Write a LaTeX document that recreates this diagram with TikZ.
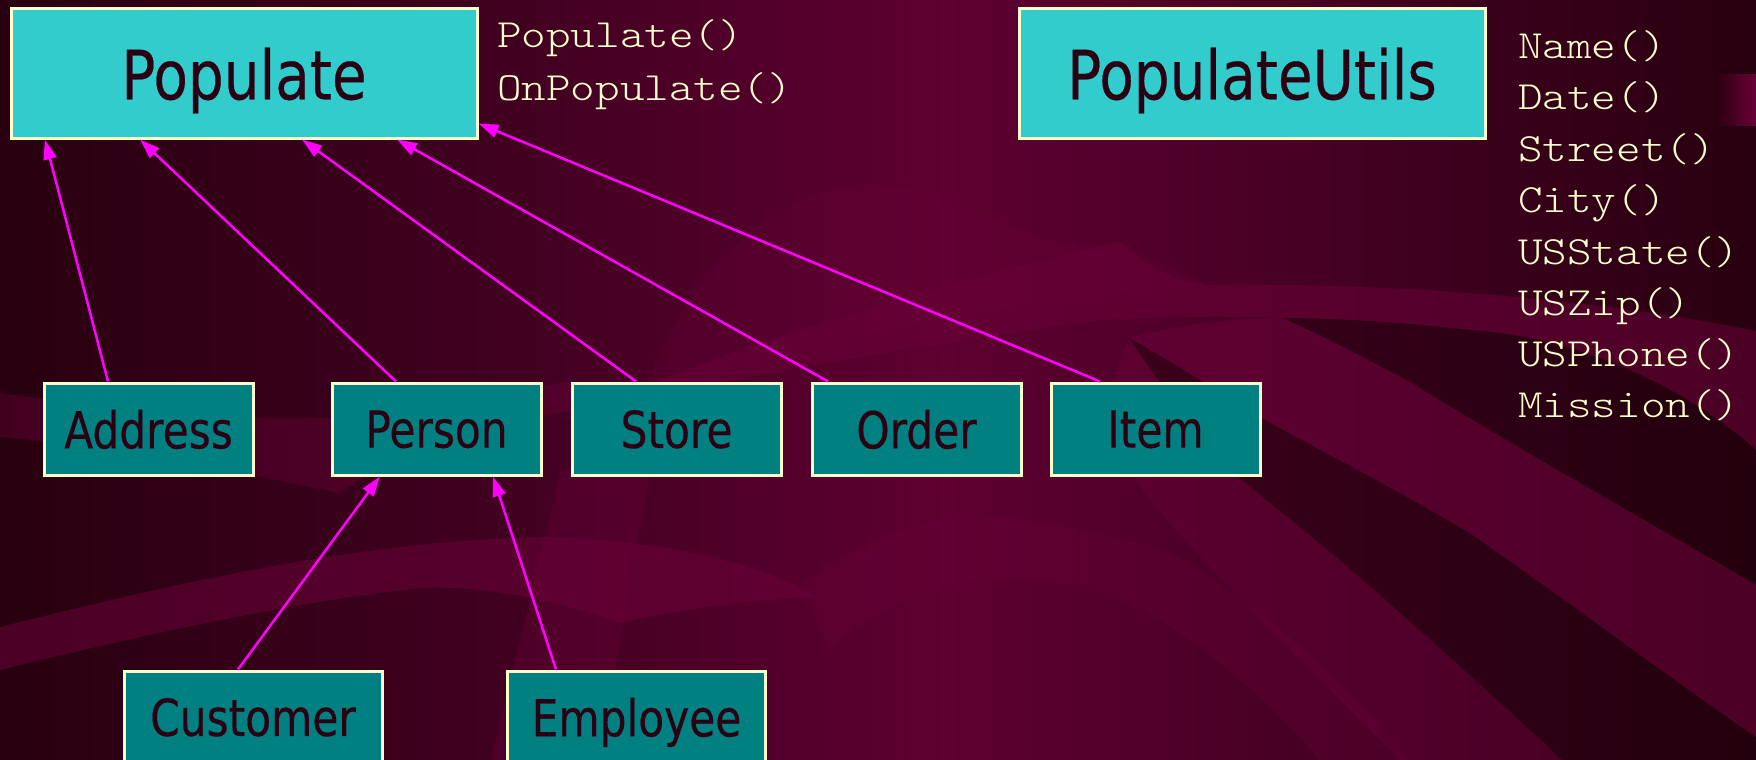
\documentclass[tikz,border=0pt]{standalone}
\usepackage{fontspec}
\usetikzlibrary{arrows.meta}
\newfontfamily\boxfont{DejaVu Sans}[FakeStretch=0.83,FakeBold=0.3]
\newfontfamily\methfont{lmmonolt10-regular.otf}[FakeStretch=1.17]
\definecolor{bgedge}{HTML}{28000F}
\definecolor{bgside}{HTML}{420021}
\definecolor{bgpeak}{HTML}{5E0030}
\definecolor{bandlight}{HTML}{6A0038}
\definecolor{banddark}{HTML}{1E000B}
\definecolor{cream}{HTML}{FFFFCC}
\definecolor{cyanfill}{HTML}{33CCCC}
\definecolor{tealfill}{HTML}{008080}
\definecolor{inkdark}{HTML}{2A0012}
\definecolor{wire}{HTML}{FF00FF}
% horizontal slide gradient: dark at both sides, brightest a little right of centre
\pgfdeclarehorizontalshading{slidebg}{100bp}{%
  color(0bp)=(bgedge); color(25bp)=(bgedge); color(40bp)=(bgside);
  color(52bp)=(bgpeak); color(64bp)=(bgside); color(75bp)=(bgedge); color(100bp)=(bgedge)}
\tikzset{
  classbox/.style={draw=cream, line width=3pt, text=inkdark, inner sep=0pt, text depth=0pt},
  bigbox/.style={classbox, fill=cyanfill, minimum width=466pt, minimum height=129pt,
    font=\boxfont\fontsize{68}{68}\selectfont},
  smallbox/.style={classbox, fill=tealfill, minimum width=209pt, minimum height=92pt,
    font=\boxfont\fontsize{51}{51}\selectfont},
  lowbox/.style={smallbox, minimum width=258pt},
  method/.style={text=cream, inner sep=0pt, anchor=base west,
    font=\methfont\fontsize{40}{40}\selectfont},
  inherit/.style={draw=wire, line width=2.5pt,
    -{Triangle[length=20pt,width=13pt]}, fill=wire},
  litband/.style={fill=bandlight, fill opacity=0.55},
  dimband/.style={fill=banddark, fill opacity=0.45}
}
\begin{document}
\begin{tikzpicture}[x=1pt,y=-1pt]
\useasboundingbox (0,0) rectangle (1756,760);
% ---- slide background ----
\shade[shading=slidebg] (0,0) rectangle (1756,760);
% band entering from the left behind the middle row
\fill[litband, fill opacity=0.4] (0,393) .. controls (120,410) and (220,420) .. (333,418)
  .. controls (420,410) and (500,395) .. (574,380) -- (574,410)
  .. controls (480,430) and (400,450) .. (339,493)
  .. controls (230,470) and (100,445) .. (0,437) -- cycle;
% faint arc in the upper middle
\fill[litband, fill opacity=0.25] (640,400) .. controls (700,240) and (800,180) .. (880,185)
  .. controls (950,190) and (1050,260) .. (1120,242) -- (1207,285)
  .. controls (1000,300) and (800,340) .. cycle;
% upper sweeping band, widening to the right
\fill[litband] (1120,242) .. controls (1150,270) and (1180,283) .. (1207,285)
  .. controls (1400,282) and (1600,300) .. (1756,331) -- (1756,450)
  .. controls (1700,400) and (1600,340) .. (1471,330)
  .. controls (1400,322) and (1330,318) .. (1282,318)
  .. controls (1200,315) and (1150,318) .. (1100,320)
  .. controls (900,350) and (700,380) .. (560,420)
  .. controls (750,340) and (950,280) .. cycle;
% first dark diagonal band
\fill[dimband] (1282,318) .. controls (1330,318) and (1400,322) .. (1471,330)
  .. controls (1600,340) and (1700,400) .. (1756,450) -- (1756,585)
  .. controls (1680,540) and (1520,450) .. (1410,382)
  .. controls (1350,350) and (1310,330) .. cycle;
% light diagonal band
\fill[litband] (1282,318) .. controls (1310,330) and (1350,350) .. (1410,382)
  .. controls (1520,450) and (1680,540) .. (1756,585) -- (1756,737)
  .. controls (1700,700) and (1580,610) .. (1471,534)
  .. controls (1380,480) and (1300,440) .. (1263,419)
  .. controls (1200,380) and (1160,355) .. (1129,338)
  .. controls (1180,325) and (1230,318) .. cycle;
% second dark diagonal band
\fill[dimband] (1129,338) .. controls (1160,355) and (1200,380) .. (1263,419)
  .. controls (1300,440) and (1380,480) .. (1471,534)
  .. controls (1580,610) and (1700,700) .. (1756,737) -- (1756,760) -- (1562,760)
  .. controls (1520,720) and (1420,630) .. (1349,568)
  .. controls (1280,510) and (1240,480) .. (1227,467)
  .. controls (1180,410) and (1150,370) .. cycle;
% light band left of it
\fill[litband, fill opacity=0.4] (1129,338) .. controls (1150,370) and (1180,410) .. (1227,467)
  .. controls (1240,480) and (1280,510) .. (1349,568)
  .. controls (1420,630) and (1520,720) .. (1562,760) -- (1400,760)
  .. controls (1300,660) and (1200,560) .. (1150,500)
  .. controls (1110,450) and (1100,400) .. cycle;
% lighter arc in the lower middle
\fill[litband, fill opacity=0.3] (800,585) .. controls (860,540) and (930,515) .. (983,517)
  .. controls (1050,518) and (1120,540) .. (1166,551)
  .. controls (1260,600) and (1350,690) .. (1410,760) -- (1320,760)
  .. controls (1250,680) and (1170,620) .. (1120,600)
  .. controls (1050,575) and (980,570) .. (930,590)
  .. controls (880,610) and (850,630) .. (830,650) -- cycle;
% rising band in the lower left
\fill[litband] (0,627) .. controls (150,590) and (350,540) .. (548,537)
  .. controls (650,540) and (760,560) .. (816,597)
  .. controls (740,600) and (680,610) .. (619,623)
  .. controls (560,600) and (480,585) .. (421,588)
  .. controls (300,600) and (120,640) .. (0,670) -- cycle;
% tilted wedge in the middle
\fill[litband, fill opacity=0.35] (561,470) -- (650,470) -- (600,760) -- (491,760) -- cycle;
% small highlight on the right edge
\shade[left color=bgedge, right color=bandlight] (1715,75) rectangle (1756,125);

% ---- classes ----
\node[bigbox] (populate) at (244,73.5) {Populate};
\node[bigbox] (utils) at (1252,73.5) {PopulateUtils};
\node[smallbox] (address) at (148.5,429) {Address};
\node[smallbox] (person) at (436.5,429) {Person};
\node[smallbox] (store) at (676.5,429) {Store};
\node[smallbox] (order) at (916.5,429) {Order};
\node[smallbox] (item) at (1155.5,429) {Item};
\node[lowbox] (customer) at (253,717) {Customer};
\node[lowbox] (employee) at (636.5,717) {Employee};

% ---- methods ----
\node[method] (m-populate) at (497,48) {Populate()};
\node[method] (m-onpopulate) at (497,100) {OnPopulate()};
\node[method] (u-name) at (1518,59) {Name()};
\node[method] (u-date) at (1518,110) {Date()};
\node[method] (u-street) at (1518,161) {Street()};
\node[method] (u-city) at (1518,212) {City()};
\node[method] (u-state) at (1518,264) {USState()};
\node[method] (u-zip) at (1518,315) {USZip()};
\node[method] (u-phone) at (1518,366) {USPhone()};
\node[method] (u-mission) at (1518,417) {Mission()};

% ---- inheritance arrows ----
\draw[inherit] ([xshift=-40.5pt]address.north) -- ([xshift=-199pt]populate.south);
\draw[inherit] ([xshift=-40.5pt]person.north) -- ([xshift=-104pt]populate.south);
\draw[inherit] ([xshift=-40.5pt]store.north) -- ([xshift=58pt]populate.south);
\draw[inherit] ([xshift=-88.5pt]order.north) -- ([xshift=153pt]populate.south);
\draw[inherit] ([xshift=-55.5pt]item.north) -- ([yshift=-50pt]populate.east);
\draw[inherit] ([xshift=-15pt]customer.north) -- ([xshift=-56.5pt]person.south);
\draw[inherit] ([xshift=-80.5pt]employee.north) -- ([xshift=56.5pt]person.south);
\end{tikzpicture}
\end{document}
